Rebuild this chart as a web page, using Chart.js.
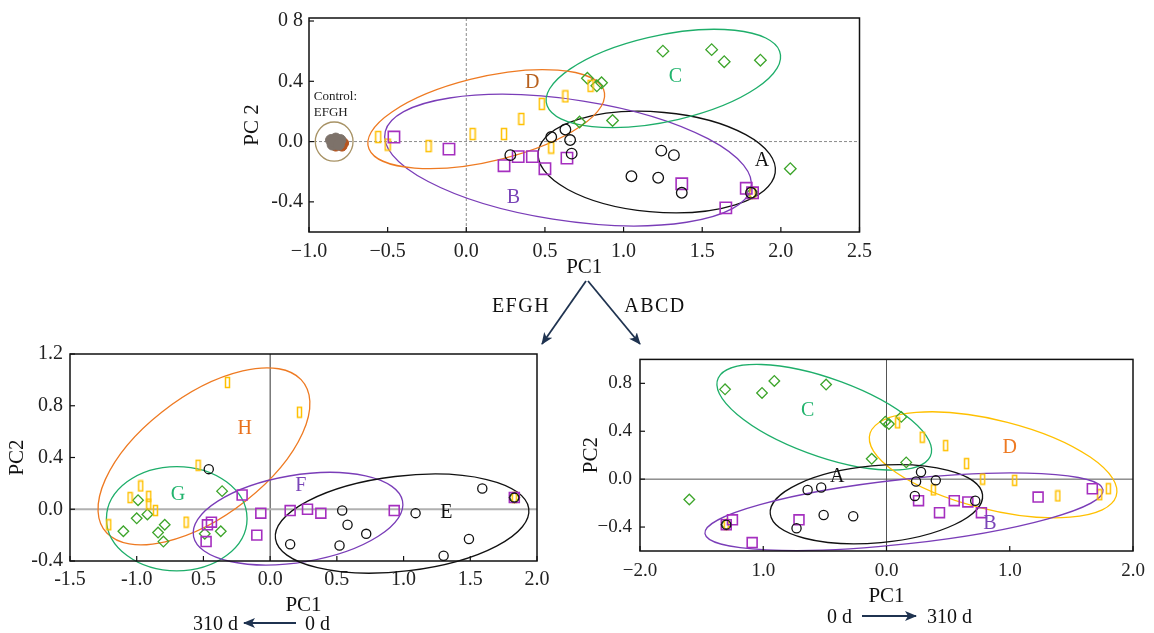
<!DOCTYPE html>
<html>
<head>
<meta charset="utf-8">
<script src="https://cdn.jsdelivr.net/npm/chart.js@4"></script>
<style>
  body { margin: 0; width: 1154px; height: 633px; background: #fff; position: relative; overflow: hidden; }
  canvas, svg { position: absolute; }
</style>
</head>
<body>
<canvas id="topChart" width="650" height="285" style="left:230px;top:0"></canvas>
<canvas id="leftChart" width="560" height="290" style="left:0;top:335px"></canvas>
<canvas id="rightChart" width="584" height="270" style="left:570px;top:340px"></canvas>
<svg width="1154" height="633" style="left:0;top:0" font-family="Liberation Serif, serif">
  <defs>
    <marker id="head" viewBox="0 0 12 10" refX="11" refY="5" markerWidth="12" markerHeight="10" markerUnits="userSpaceOnUse" orient="auto">
      <path d="M0,0 L12,5 L0,10 L3,5 z" fill="#1f3350"/>
    </marker>
  </defs>
  <line x1="586" y1="281" x2="542" y2="344" stroke="#1f3350" stroke-width="1.8" marker-end="url(#head)"/>
  <line x1="588" y1="281" x2="640" y2="344" stroke="#1f3350" stroke-width="1.8" marker-end="url(#head)"/>
  <text x="521" y="312" font-size="20" text-anchor="middle" letter-spacing="1.5" fill="#111">EFGH</text>
  <text x="655" y="312" font-size="20" text-anchor="middle" letter-spacing="1.5" fill="#111">ABCD</text>
  <text x="238" y="630" font-size="20" text-anchor="end" fill="#111">310 d</text>
  <line x1="296" y1="623" x2="244" y2="623" stroke="#1f3350" stroke-width="1.8" marker-end="url(#head)"/>
  <text x="305" y="630" font-size="20" fill="#111">0 d</text>
  <text x="852" y="623" font-size="20" text-anchor="end" fill="#111">0 d</text>
  <line x1="862" y1="616" x2="916" y2="616" stroke="#1f3350" stroke-width="1.8" marker-end="url(#head)"/>
  <text x="927" y="623" font-size="20" fill="#111">310 d</text>
</svg>
<script>
// ---- top panel (all samples) ----
const topA = [[0.28,-0.09],[0.54,0.03],[0.63,0.08],[0.66,0.01],[0.67,-0.08],[1.05,-0.23],[1.22,-0.24],[1.24,-0.06],[1.32,-0.09],[1.37,-0.34],[1.81,-0.34]];
const topB = [[-0.46,0.03],[-0.11,-0.05],[0.24,-0.16],[0.33,-0.10],[0.42,-0.10],[0.50,-0.18],[0.64,-0.11],[1.37,-0.28],[1.78,-0.31],[1.82,-0.34],[1.65,-0.44]];
const topC = [[1.25,0.60],[1.56,0.61],[1.64,0.53],[1.87,0.54],[0.77,0.42],[0.83,0.37],[0.86,0.39],[0.72,0.13],[0.93,0.14],[2.06,-0.18],[1.82,-0.34]];
const topD = [[-0.56,0.03],[-0.50,-0.02],[-0.24,-0.03],[0.04,0.05],[0.24,0.05],[0.35,0.15],[0.48,0.25],[0.63,0.30],[0.79,0.37],[0.54,-0.04],[1.82,-0.34]];
const topControl = [[-0.86,0.01],[-0.83,0.02],[-0.80,0.01],[-0.85,-0.02],[-0.82,-0.01],[-0.84,0.0],[-0.81,-0.02]];
const topControlEdge = [[-0.79,-0.03],[-0.78,-0.01],[-0.83,-0.03]];
const topXTicks = [-1.0,-0.5,0,0.5,1.0,1.5,2.0,2.5];
const topXLabels = ['\u22121.0','\u22120.5','0.0','0.5','1.0','1.5','2.0','2.5'];
const topYTicks = [0.8,0.4,0,-0.4];
const topYLabels = ['0 8','0.4','0.0','-0.4'];
// ellipses: centre, two conjugate semi-axes (data units)
const topEllNames = ['A','B','C','D','ctrl'];
const topEllC = [[1.211,-0.136],[0.647,-0.123],[1.253,0.419],[0.127,0.149],[-0.84,0]];
const topEllU = [[0.753,-0.072],[1.162,-0.191],[0.739,0.181],[0.746,0.196],[0.12,0]];
const topEllV = [[0.047,0.329],[0.096,0.392],[0.098,-0.271],[0.102,-0.263],[0,0.13]];
const topLabelText = ['D','C','A','B'];
const topLabelPos = [[0.42,0.39],[1.33,0.43],[1.88,-0.13],[0.30,-0.37]];

// ---- bottom left panel (EFGH) ----
const blE = [[-0.46,0.31],[0.54,-0.01],[0.58,-0.12],[0.72,-0.19],[0.15,-0.27],[0.52,-0.28],[1.09,-0.03],[1.59,0.16],[1.49,-0.23],[1.30,-0.36],[1.83,0.09]];
const blF = [[-0.21,0.11],[-0.07,-0.03],[-0.10,-0.20],[0.15,-0.01],[0.28,0.00],[0.38,-0.03],[0.93,-0.01],[-0.44,-0.10],[-0.47,-0.12],[-0.48,-0.25],[1.83,0.09]];
const blG = [[-0.99,0.07],[-1.00,-0.07],[-0.92,-0.04],[-1.10,-0.17],[-0.84,-0.18],[-0.79,-0.12],[-0.80,-0.25],[-0.36,0.14],[-0.49,-0.19],[-0.37,-0.17],[1.83,0.09]];
const blH = [[-0.32,0.98],[0.22,0.75],[-0.54,0.34],[-0.97,0.18],[-1.05,0.09],[-0.91,0.10],[-0.91,0.04],[-0.86,-0.01],[-1.21,-0.12],[-0.63,-0.10],[1.83,0.09]];
const blXTicks = [-1.5,-1.0,-0.5,0,0.5,1.0,1.5,2.0];
const blXLabels = ['-1.5','-1.0','0.5','0.0','0.5','1.0','1.5','2.0'];
const blYTicks = [1.2,0.8,0.4,0,-0.4];
const blYLabels = ['1.2','0.8','0.4','0.0','-0.4'];
const blEllNames = ['H','G','F','E'];
const blEllC = [[-0.496,0.409],[-0.70,-0.073],[0.209,-0.073],[0.989,-0.111]];
const blEllU = [[0.728,0.593],[0.527,0],[0.783,0.138],[0.949,0.118]];
const blEllV = [[0.317,-0.341],[0,0.403],[0.067,-0.33],[0.052,-0.364]];
const blLabelText = ['H','G','F','E'];
const blLabelPos = [[-0.19,0.62],[-0.69,0.11],[0.23,0.18],[1.32,-0.03]];

// ---- bottom right panel (ABCD) ----
const brA = [[0.28,0.06],[0.24,-0.02],[0.40,-0.01],[0.23,-0.14],[0.72,-0.18],[-0.64,-0.09],[-0.53,-0.07],[-0.51,-0.30],[-0.27,-0.31],[-0.73,-0.41],[-1.30,-0.38]];
const brB = [[0.26,-0.18],[0.43,-0.28],[0.55,-0.18],[0.66,-0.19],[0.77,-0.28],[1.23,-0.15],[1.67,-0.08],[-0.71,-0.34],[-1.25,-0.34],[-1.09,-0.53],[-1.30,-0.38]];
const brC = [[-1.31,0.75],[-1.01,0.72],[-0.91,0.82],[-0.49,0.79],[-0.01,0.48],[0.02,0.46],[0.12,0.52],[-0.12,0.17],[0.16,0.14],[-1.60,-0.17],[-1.30,-0.38]];
const brD = [[0.09,0.47],[0.29,0.35],[0.48,0.28],[0.65,0.13],[0.78,0.00],[1.04,-0.01],[0.38,-0.09],[1.39,-0.14],[1.73,-0.13],[1.80,-0.08],[-1.30,-0.38]];
const brXTicks = [-2.0,-1.0,0,1.0,2.0];
const brXLabels = ['\u22122.0','1.0','0.0','1.0','2.0'];
const brYTicks = [0.8,0.4,0,-0.4];
const brYLabels = ['0.8','0.4','0.0','\u22120.4'];
const brEllNames = ['C','D','A','B'];
const brEllC = [[-0.505,0.517],[0.865,0.12],[-0.082,-0.21],[0.142,-0.272]];
const brEllU = [[0.86,-0.328],[0.998,-0.264],[0.861,0.081],[1.615,0.183]];
const brEllV = [[0.139,0.295],[0.116,0.355],[0.0375,-0.32],[0.0375,-0.267]];
const brLabelText = ['C','D','A','B'];
const brLabelPos = [[-0.64,0.57],[1.00,0.26],[-0.40,0.02],[0.84,-0.37]];

// ---- styles ----
const FONT = 'Liberation Serif';
const ellColor = { A:'#111', B:'#7a3db8', C:'#1eae6a', D:'#ee7a22', E:'#111', F:'#7a3db8', G:'#1eae6a', H:'#ee7a22', ctrl:'#a89366' };
const labelColor = { A:'#111', B:'#7a45b8', C:'#22b46e', D:'#b8611e', E:'#111', F:'#7a45b8', G:'#22b46e', H:'#e8701c' };

function tallRect(w, h) {
  const c = document.createElement('canvas');
  c.width = w + 3; c.height = h + 3;
  const g = c.getContext('2d');
  g.strokeStyle = '#ffc000'; g.lineWidth = 1.5;
  g.strokeRect(1.5, 1.5, w, h);
  return c;
}

const toXY = arr => arr.map(([x, y]) => ({ x, y }));

function sets(circ, sq, dia, rect, sz) {
  return [
    { data: toXY(circ), pointStyle: 'circle', pointRadius: sz.c, borderColor: '#111', backgroundColor: 'rgba(0,0,0,0)', borderWidth: 1.3 },
    { data: toXY(sq), pointStyle: 'rect', pointRadius: sz.s, borderColor: '#a52fbf', backgroundColor: 'rgba(0,0,0,0)', borderWidth: 1.6 },
    { data: toXY(rect), pointStyle: tallRect(sz.rw, sz.rh), borderColor: '#ffc000', backgroundColor: 'rgba(0,0,0,0)' },
    { data: toXY(dia), pointStyle: 'rectRot', pointRadius: sz.d, borderColor: '#3da52b', backgroundColor: 'rgba(0,0,0,0)', borderWidth: 1.3 }
  ];
}

const decor = {
  id: 'decor',
  beforeDatasetsDraw(chart, args, o) {
    const { ctx, chartArea: a, scales: { x, y } } = chart;
    ctx.save();
    const x0 = x.getPixelForValue(0), y0 = y.getPixelForValue(0);
    ctx.strokeStyle = o.vLine.color; ctx.lineWidth = o.vLine.width; ctx.setLineDash(o.vLine.dash || []);
    ctx.beginPath(); ctx.moveTo(x0, a.top); ctx.lineTo(x0, a.bottom); ctx.stroke();
    ctx.strokeStyle = o.hLine.color; ctx.lineWidth = o.hLine.width; ctx.setLineDash(o.hLine.dash || []);
    ctx.beginPath(); ctx.moveTo(a.left, y0); ctx.lineTo(a.right, y0); ctx.stroke();
    ctx.setLineDash([]);
    o.ellNames.forEach((n, i) => {
      const c = o.ellC[i], u = o.ellU[i], v = o.ellV[i];
      const cx = x.getPixelForValue(c[0]), cy = y.getPixelForValue(c[1]);
      const ux = x.getPixelForValue(c[0] + u[0]) - cx, uy = y.getPixelForValue(c[1] + u[1]) - cy;
      const vx = x.getPixelForValue(c[0] + v[0]) - cx, vy = y.getPixelForValue(c[1] + v[1]) - cy;
      ctx.save();
      ctx.beginPath();
      ctx.transform(ux, uy, vx, vy, cx, cy);
      ctx.arc(0, 0, 1, 0, Math.PI * 2);
      ctx.restore();
      ctx.strokeStyle = (o.ellColors && o.ellColors[n]) || ellColor[n];
      ctx.lineWidth = 1.3;
      ctx.stroke();
    });
    ctx.restore();
  },
  afterDatasetsDraw(chart, args, o) {
    const { ctx, chartArea: a, scales: { x, y } } = chart;
    ctx.save();
    ctx.strokeStyle = '#111'; ctx.lineWidth = 1.5;
    ctx.strokeRect(a.left, a.top, a.right - a.left, a.bottom - a.top);
    ctx.lineWidth = 1.2;
    o.xTicks.forEach(v => {
      const p = x.getPixelForValue(v);
      ctx.beginPath(); ctx.moveTo(p, a.bottom); ctx.lineTo(p, a.bottom - 5); ctx.stroke();
    });
    o.yTicks.forEach(v => {
      const p = y.getPixelForValue(v);
      ctx.beginPath(); ctx.moveTo(a.left, p); ctx.lineTo(a.left + 5, p); ctx.stroke();
    });
    ctx.font = '20px "' + FONT + '"';
    ctx.textAlign = 'center'; ctx.textBaseline = 'middle';
    o.labelText.forEach((t, i) => {
      ctx.fillStyle = (o.labelColors && o.labelColors[t]) || labelColor[t];
      ctx.fillText(t, x.getPixelForValue(o.labelPos[i][0]), y.getPixelForValue(o.labelPos[i][1]));
    });
    if (o.notes) {
      ctx.fillStyle = '#222'; ctx.font = '13px "' + FONT + '"'; ctx.textAlign = 'left';
      o.notes.forEach(n => ctx.fillText(n.text, x.getPixelForValue(n.x), y.getPixelForValue(n.y)));
    }
    ctx.restore();
  }
};

function axis(min, max, ticks, labels, size, fitSize, horizontal, title, tickPad, titlePad) {
  return {
    type: 'linear', min, max,
    grid: { display: false, drawTicks: false },
    border: { display: false },
    afterBuildTicks: s => { s.ticks = ticks.map(v => ({ value: v })); },
    afterFit: s => { if (horizontal) s.height = fitSize; else s.width = fitSize; },
    ticks: {
      padding: tickPad, autoSkip: false, maxRotation: 0, color: '#222',
      font: { family: FONT, size },
      callback: v => labels[ticks.indexOf(v)]
    },
    title: { display: true, text: title, color: '#111', font: { family: FONT, size: 21 }, padding: titlePad }
  };
}

function make(id, datasets, pad, xs, ys, decorOpts) {
  return new Chart(document.getElementById(id), {
    type: 'scatter',
    data: { datasets },
    options: {
      responsive: false, animation: false, devicePixelRatio: 1,
      layout: { padding: pad },
      plugins: { legend: { display: false }, tooltip: { enabled: false }, decor: decorOpts },
      scales: { x: xs, y: ys }
    },
    plugins: [decor]
  });
}

// top
const topSets = sets(topA, topB, topC, topD, { c: 5.3, s: 8, d: 5.8, rw: 5, rh: 11 });
topSets.push({ data: toXY(topControlEdge), pointStyle: 'circle', pointRadius: 5, borderColor: '#b5541f', backgroundColor: '#b5541f', borderWidth: 1 });
topSets.unshift({ data: toXY(topControl), pointStyle: 'circle', pointRadius: 5.5, borderColor: '#7d726a', backgroundColor: '#7d726a', borderWidth: 1 });
make('topChart', topSets, { top: 12, right: 18, left: 0, bottom: 0 },
  axis(-1.0, 2.5, topXTicks, topXLabels, 20, 53, true, 'PC1', 8, { top: 0, bottom: 5 }),
  axis(-0.6, 0.82, topYTicks, topYLabels, 20, 79, false, 'PC 2', 6, { top: 10, bottom: 0 }),
  { vLine: { color: '#8a8a8a', width: 1, dash: [3, 2] }, hLine: { color: '#8a8a8a', width: 1, dash: [3, 2] },
    ellNames: topEllNames, ellC: topEllC, ellU: topEllU, ellV: topEllV,
    labelText: topLabelText, labelPos: topLabelPos, xTicks: topXTicks, yTicks: topYTicks,
    notes: [{ text: 'Control:', x: -0.97, y: 0.3 }, { text: 'EFGH', x: -0.97, y: 0.195 }] });

// bottom left
make('leftChart', sets(blE, blF, blG, blH, { c: 4.6, s: 7, d: 5.3, rw: 4, rh: 10 }), { top: 14, right: 23, left: 0, bottom: 0 },
  axis(-1.5, 2.0, blXTicks, blXLabels, 20, 64, true, 'PC1', 7, { top: 0, bottom: 7 }),
  axis(-0.4, 1.2, blYTicks, blYLabels, 20, 70, false, 'PC2', 7, { top: 5, bottom: 0 }),
  { vLine: { color: '#333', width: 1 }, hLine: { color: '#b0b0b0', width: 2 },
    ellNames: blEllNames, ellC: blEllC, ellU: blEllU, ellV: blEllV,
    labelText: blLabelText, labelPos: blLabelPos, xTicks: blXTicks, yTicks: blYTicks });

// bottom right
make('rightChart', sets(brA, brB, brC, brD, { c: 4.6, s: 7, d: 5.3, rw: 4, rh: 10 }), { top: 14, right: 21, left: 0, bottom: 0 },
  axis(-2.0, 2.0, brXTicks, brXLabels, 19, 59, true, 'PC1', 9, { top: 0, bottom: 1 }),
  axis(-0.6, 1.0, brYTicks, brYLabels, 19, 70, false, 'PC2', 8, { top: 9, bottom: 0 }),
  { vLine: { color: '#555', width: 1 }, hLine: { color: '#555', width: 1 },
    ellNames: brEllNames, ellC: brEllC, ellU: brEllU, ellV: brEllV,
    ellColors: { D: '#ffc000' }, labelColors: { D: '#ee7a22' },
    labelText: brLabelText, labelPos: brLabelPos, xTicks: brXTicks, yTicks: brYTicks });
</script>
</body>
</html>
